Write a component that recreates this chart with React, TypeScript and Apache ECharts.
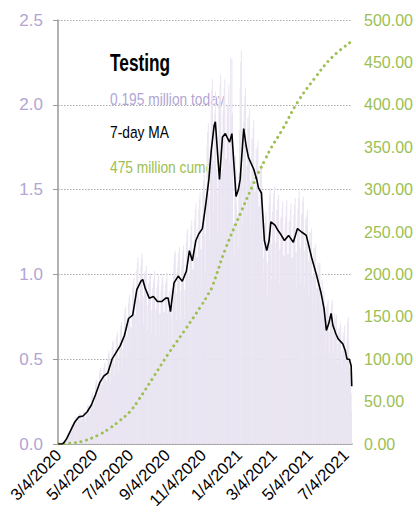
import React, { useEffect, useRef } from "react";
import * as echarts from "echarts";

const START = Date.UTC(2020, 2, 4);
const NUM_DAYS = 498;
const tickLabels = ["3/4/2020", "5/4/2020", "7/4/2020", "9/4/2020", "11/4/2020", "1/4/2021", "3/4/2021", "5/4/2021", "7/4/2021"];

// daily tests (millions), rows = weeks starting Wednesday
const dailyTests: number[] = [
  0.00, 0.00, 0.01, 0.01, 0.01, 0.01, 0.02,
  0.01, 0.01, 0.02, 0.02, 0.02, 0.03, 0.04,
  0.04, 0.05, 0.06, 0.05, 0.05, 0.06, 0.07,
  0.09, 0.10, 0.12, 0.10, 0.09, 0.11, 0.13,
  0.14, 0.16, 0.16, 0.13, 0.11, 0.13, 0.15,
  0.17, 0.18, 0.18, 0.15, 0.13, 0.15, 0.17,
  0.18, 0.19, 0.19, 0.15, 0.13, 0.16, 0.18,
  0.21, 0.23, 0.23, 0.19, 0.16, 0.19, 0.21,
  0.27, 0.29, 0.30, 0.25, 0.21, 0.24, 0.27,
  0.35, 0.37, 0.38, 0.30, 0.25, 0.30, 0.34,
  0.42, 0.44, 0.45, 0.36, 0.29, 0.35, 0.41,
  0.45, 0.47, 0.48, 0.38, 0.31, 0.37, 0.44,
  0.51, 0.53, 0.55, 0.43, 0.35, 0.42, 0.49,
  0.57, 0.60, 0.61, 0.48, 0.39, 0.47, 0.56,
  0.62, 0.64, 0.66, 0.52, 0.42, 0.51, 0.60,
  0.67, 0.70, 0.72, 0.56, 0.46, 0.56, 0.65,
  0.76, 0.79, 0.81, 0.64, 0.52, 0.63, 0.74,
  0.83, 0.86, 0.88, 0.69, 0.56, 0.68, 0.80,
  0.92, 0.95, 0.98, 0.77, 0.62, 0.76, 0.89,
  1.03, 1.07, 1.10, 0.86, 0.70, 0.85, 0.99,
  1.05, 1.09, 1.12, 0.87, 0.71, 0.87, 1.01,
  0.98, 1.02, 1.05, 0.82, 0.67, 0.82, 0.95,
  0.95, 0.99, 1.01, 0.79, 0.65, 0.79, 0.92,
  0.95, 0.98, 1.02, 0.80, 0.64, 0.79, 0.92,
  0.93, 0.97, 0.99, 0.77, 0.63, 0.77, 0.90,
  0.94, 0.98, 1.00, 0.78, 0.64, 0.78, 0.91,
  0.95, 0.97, 1.01, 0.77, 0.65, 0.79, 0.90,
  0.88, 0.80, 0.92, 0.74, 0.60, 0.82, 1.02,
  1.07, 1.12, 1.14, 0.89, 0.73, 0.89, 1.04,
  1.08, 1.13, 1.16, 0.90, 0.74, 0.90, 1.05,
  1.09, 1.14, 1.17, 0.91, 0.74, 0.91, 1.06,
  1.19, 1.24, 1.27, 0.99, 0.81, 0.99, 1.16,
  1.23, 1.29, 1.32, 1.03, 0.84, 1.03, 1.20,
  1.32, 1.38, 1.42, 1.10, 0.90, 1.10, 1.28,
  1.38, 1.44, 1.48, 1.15, 0.94, 1.15, 1.34,
  1.49, 1.55, 1.59, 1.24, 1.01, 1.24, 1.45,
  1.76, 1.84, 1.89, 1.47, 1.20, 1.47, 1.71,
  2.00, 2.09, 2.15, 1.67, 1.37, 1.67, 1.95,
  2.08, 1.40, 1.62, 1.48, 1.25, 1.70, 2.02,
  2.05, 2.12, 2.18, 1.60, 1.35, 1.62, 1.95,
  2.02, 2.10, 2.15, 1.68, 1.37, 1.68, 1.95,
  2.00, 2.07, 2.12, 1.66, 1.35, 2.28, 1.93,
  2.27, 1.95, 1.25, 1.30, 1.10, 1.55, 1.70,
  1.62, 1.40, 1.30, 1.35, 1.15, 1.60, 1.85,
  2.10, 2.25, 2.32, 1.60, 1.30, 1.60, 1.90,
  1.98, 2.05, 2.10, 1.64, 1.34, 1.64, 1.92,
  1.86, 1.94, 1.98, 1.55, 1.26, 1.55, 1.80,
  1.79, 1.87, 1.91, 1.49, 1.22, 1.49, 1.74,
  1.68, 1.75, 1.79, 1.40, 1.14, 1.40, 1.63,
  1.60, 1.66, 1.50, 1.20, 0.98, 1.10, 1.30,
  1.28, 1.34, 1.37, 1.07, 0.87, 1.07, 1.25,
  1.41, 1.47, 1.51, 1.18, 0.96, 1.18, 1.37,
  1.42, 1.48, 1.52, 1.19, 0.97, 1.19, 1.38,
  1.38, 1.44, 1.47, 1.15, 0.94, 1.15, 1.34,
  1.33, 1.39, 1.43, 1.11, 0.91, 1.11, 1.29,
  1.34, 1.40, 1.44, 1.12, 0.92, 1.12, 1.31,
  1.32, 1.38, 1.42, 1.10, 0.90, 1.10, 1.28,
  1.35, 1.41, 1.45, 1.13, 0.92, 1.13, 1.32,
  1.39, 1.45, 1.49, 1.16, 0.95, 1.16, 1.35,
  1.36, 1.43, 1.46, 1.14, 0.93, 1.14, 1.33,
  1.29, 1.35, 1.38, 1.08, 0.88, 1.08, 1.25,
  1.19, 1.24, 1.27, 0.99, 0.81, 0.99, 1.16,
  1.10, 1.15, 1.18, 0.92, 0.75, 0.92, 1.07,
  1.00, 1.05, 1.07, 0.84, 0.68, 0.84, 0.97,
  0.84, 0.87, 0.90, 0.70, 0.57, 0.70, 0.81,
  0.79, 0.83, 0.85, 0.66, 0.54, 0.66, 0.77,
  0.79, 0.83, 0.85, 0.66, 0.54, 0.66, 0.77,
  0.70, 0.74, 0.76, 0.59, 0.48, 0.59, 0.68,
  0.66, 0.69, 0.71, 0.55, 0.45, 0.55, 0.64,
  0.62, 0.66, 0.70, 0.52, 0.42, 0.52, 0.62,
  0.72, 0.75, 0.60, 0.45, 0.36, 0.42, 0.30,
  0.195,
];

// 7-day moving average (millions): day offset from 3/4/2020 and value
const maDays = [0, 7, 10, 14, 21, 28, 35, 42, 49, 56, 63, 70, 77, 84, 91, 98, 105, 112, 119, 126, 133, 140, 143, 147, 154, 161, 168, 175, 182, 186, 190, 196, 203, 210, 217, 222, 227, 233, 238, 244, 250, 255, 259, 264, 266, 270, 273, 278, 283, 287, 290, 294, 298, 301, 305, 308, 314, 318, 322, 331, 336, 339, 344, 349, 353, 357, 360, 367, 372, 376, 383, 390, 398, 405, 412, 420, 429, 437, 445, 450, 454, 458, 462, 465, 470, 474, 482, 486, 489, 493, 496, 497];
const maValues = [0, 0, 0.01, 0.03, 0.08, 0.13, 0.16, 0.165, 0.19, 0.23, 0.29, 0.36, 0.40, 0.42, 0.50, 0.54, 0.58, 0.64, 0.74, 0.76, 0.91, 0.96, 0.97, 0.92, 0.86, 0.87, 0.84, 0.84, 0.86, 0.86, 0.78, 0.95, 0.99, 0.96, 1.02, 1.14, 1.08, 1.20, 1.24, 1.27, 1.42, 1.56, 1.73, 1.88, 1.90, 1.70, 1.56, 1.81, 1.83, 1.80, 1.78, 1.83, 1.62, 1.46, 1.50, 1.56, 1.86, 1.76, 1.69, 1.62, 1.56, 1.51, 1.48, 1.20, 1.14, 1.20, 1.31, 1.29, 1.26, 1.24, 1.20, 1.23, 1.19, 1.27, 1.25, 1.23, 1.10, 1.00, 0.89, 0.80, 0.67, 0.71, 0.77, 0.70, 0.65, 0.62, 0.59, 0.55, 0.50, 0.50, 0.46, 0.34];

// cumulative tests (millions)
const cumDays = [0, 20, 40, 68, 87, 104, 121, 135, 163, 185, 213, 241, 255, 261, 283, 311, 328, 339, 350, 361, 378, 406, 434, 462, 497];
const cumValues = [0, 1, 3, 10.6, 18.5, 27.5, 38, 51, 81, 105, 133, 162, 178, 186, 230, 276, 303, 320, 335, 350, 369, 404, 431, 455, 475];

const LAV = "#b2a5d3";
const GREEN = "#9cc053";
const FONT = "'Liberation Sans', Arial, sans-serif";

function fmt(ts: number) {
  const d = new Date(ts);
  return `${d.getUTCMonth() + 1}/${d.getUTCDate()}/${d.getUTCFullYear()}`;
}

export default function App() {
  const ref = useRef<HTMLDivElement>(null);
  useEffect(() => {
    if (!ref.current) return;
    const chart = echarts.init(ref.current, null, { renderer: "svg" });
    const categories: string[] = [];
    for (let i = 0; i < NUM_DAYS; i++) categories.push(fmt(START + i * 86400000));
    const isTick = (_i: number, v: string) => tickLabels.includes(v);
    const legendText = (text: string, y: number, size: number, fill: string, scaleX: number, bold = false) => ({
      type: "text", x: 110, y, scaleX,
      style: { text, font: `${bold ? "bold " : ""}${size}px ${FONT}`, fill, textVerticalAlign: "middle", verticalAlign: "middle" },
    });
    chart.setOption({
      animation: false,
      textStyle: { fontFamily: FONT },
      grid: { left: 58, right: 62, top: 20, bottom: 77, containLabel: false },
      xAxis: {
        type: "category",
        data: categories,
        boundaryGap: true,
        axisLine: { lineStyle: { color: "#9a9a9a", width: 1.5 } },
        axisTick: { interval: isTick, length: 5, lineStyle: { color: "#9a9a9a", width: 1.5 } },
        axisLabel: { interval: isTick, rotate: 45, color: "#000", fontSize: 16.5, margin: 8, fontFamily: FONT },
      },
      yAxis: [
        {
          type: "value", min: 0, max: 2.5, interval: 0.5,
          axisLine: { show: true, lineStyle: { color: "#9a9a9a", width: 1.5 } },
          axisTick: { show: true, length: 5, lineStyle: { color: "#9a9a9a" } },
          axisLabel: { color: LAV, fontSize: 17, margin: 15, formatter: (v: number) => v.toFixed(1), fontFamily: FONT },
          splitLine: { show: true, lineStyle: { color: "#aaaaaa", type: [1.5, 1.5], width: 1 } },
        },
        {
          type: "value", min: 0, max: 500, interval: 50,
          axisLine: { show: false }, axisTick: { show: false },
          axisLabel: { color: GREEN, fontSize: 16, margin: 12, formatter: (v: number) => v.toFixed(2), fontFamily: FONT },
          splitLine: { show: false },
        },
      ],
      series: [
        {
          type: "bar", data: dailyTests, barCategoryGap: "15%",
          itemStyle: { color: "#e9e4f1" }, z: 1,
        },
        {
          type: "line", data: maDays.map((d, i) => [d, maValues[i]]),
          symbol: "none", lineStyle: { color: "#000", width: 1.6 }, z: 3,
        },
        {
          type: "line", yAxisIndex: 1, data: cumDays.map((d, i) => [d, cumValues[i]]),
          smooth: 0.4, symbol: "none",
          lineStyle: { color: GREEN, width: 3, type: [0.01, 5.7], cap: "round" }, z: 2,
        },
      ],
      graphic: [
        legendText("Testing", 62, 24, "#000", 0.72, true),
        legendText("0.195 million today", 99, 17, LAV, 0.81),
        legendText("7-day MA", 132, 17, "#000", 0.81),
        legendText("475 million cume", 167, 17, GREEN, 0.81),
      ],
    });
    return () => chart.dispose();
  }, []);
  return <div ref={ref} style={{ position: "absolute", left: 0, top: 0, width: 416, height: 521 }} />;
}
